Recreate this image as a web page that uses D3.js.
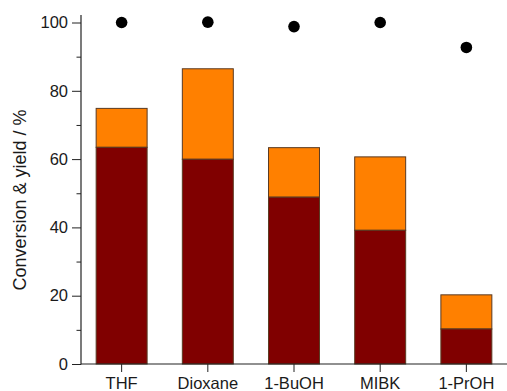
<!DOCTYPE html>
<html>
<head>
<meta charset="utf-8">
<script src="https://cdn.jsdelivr.net/npm/d3@7"></script>
<style>
  html, body { margin: 0; padding: 0; background: #fff; }
  svg { display: block; }
  text { font-family: "Liberation Sans", Arial, sans-serif; fill: #1a1a1a; }
</style>
</head>
<body>
<svg id="chart" width="507" height="391"></svg>
<script>
// ---- data ----
const categories = ["THF", "Dioxane", "1-BuOH", "MIBK", "1-PrOH"];
const yieldDark = [63.6, 60.1, 49.0, 39.3, 10.4];     // lower (dark red) segment
const totalYield = [75.0, 86.6, 63.5, 60.8, 20.4];    // top of orange segment
const conversion = [100.0, 100.1, 98.8, 100.0, 92.7]; // black dots
const yTicksMajor = [0, 20, 40, 60, 80, 100];
const yTicksMinor = [10, 30, 50, 70, 90];
const yLabel = "Conversion & yield / %";

// ---- layout ----
const svg = d3.select("#chart");
const axisX = 81, axisBottom = 364, axisTop = 15, rightEdge = 507;

const x = d3.scaleBand()
  .domain(categories)
  .range([axisX, rightEdge])
  .paddingInner(0.397)
  .paddingOuter(0.17);

const y = d3.scaleLinear()
  .domain([0, 102.2])
  .range([axisBottom, axisTop]);

const rows = categories.map((c, i) => ({
  c, dark: yieldDark[i], total: totalYield[i], conv: conversion[i]
}));

const strokeCol = "#5a3a22";

// orange (upper) segments
svg.append("g").selectAll("rect")
  .data(rows).join("rect")
  .attr("x", d => x(d.c) + 0.5)
  .attr("y", d => y(d.total) + 0.5)
  .attr("width", x.bandwidth() - 1)
  .attr("height", d => y(d.dark) - y(d.total))
  .attr("fill", "#ff8000")
  .attr("stroke", strokeCol)
  .attr("stroke-width", 1);

// dark red (lower) segments
svg.append("g").selectAll("rect")
  .data(rows).join("rect")
  .attr("x", d => x(d.c) + 0.5)
  .attr("y", d => y(d.dark) + 0.5)
  .attr("width", x.bandwidth() - 1)
  .attr("height", d => y(0) - y(d.dark) - 0.5)
  .attr("fill", "#800000")
  .attr("stroke", strokeCol)
  .attr("stroke-width", 1);

// conversion dots
svg.append("g").selectAll("circle")
  .data(rows).join("circle")
  .attr("cx", d => x(d.c) + x.bandwidth() / 2)
  .attr("cy", d => y(d.conv))
  .attr("r", 5.8)
  .attr("fill", "#000");

// y axis (major)
const yAxisG = svg.append("g")
  .attr("transform", `translate(${axisX},0)`)
  .call(d3.axisLeft(y).tickValues(yTicksMajor).tickSize(9).tickPadding(4).tickSizeOuter(0));
yAxisG.select(".domain").remove();
yAxisG.selectAll("text").attr("font-size", "16.5px").attr("fill", "#1a1a1a")
  .style("font-family", "'Liberation Sans', Arial, sans-serif");
yAxisG.selectAll("line").attr("stroke", "#222");

// y minor ticks
const yMinorG = svg.append("g")
  .attr("transform", `translate(${axisX},0)`)
  .call(d3.axisLeft(y).tickValues(yTicksMinor).tickSize(4.5).tickFormat(""));
yMinorG.select(".domain").remove();
yMinorG.selectAll("line").attr("stroke", "#222");

// y axis line
svg.append("line")
  .attr("x1", axisX).attr("x2", axisX)
  .attr("y1", axisTop).attr("y2", axisBottom + 0.5)
  .attr("stroke", "#222").attr("stroke-width", 1.2);

// x axis
const xAxisG = svg.append("g")
  .attr("transform", `translate(0,${axisBottom})`)
  .call(d3.axisBottom(x).tickSize(8).tickPadding(5).tickSizeOuter(0));
xAxisG.select(".domain").remove();
xAxisG.selectAll("line").attr("stroke", "#222");
xAxisG.selectAll("text").attr("font-size", "16.5px").attr("fill", "#1a1a1a")
  .style("font-family", "'Liberation Sans', Arial, sans-serif");

svg.append("line")
  .attr("x1", axisX).attr("x2", rightEdge)
  .attr("y1", axisBottom).attr("y2", axisBottom)
  .attr("stroke", "#222").attr("stroke-width", 1.2);

// y label
svg.append("text")
  .attr("transform", `translate(26,200) rotate(-90)`)
  .attr("text-anchor", "middle")
  .attr("font-size", "18px")
  .text(yLabel);
</script>
</body>
</html>
